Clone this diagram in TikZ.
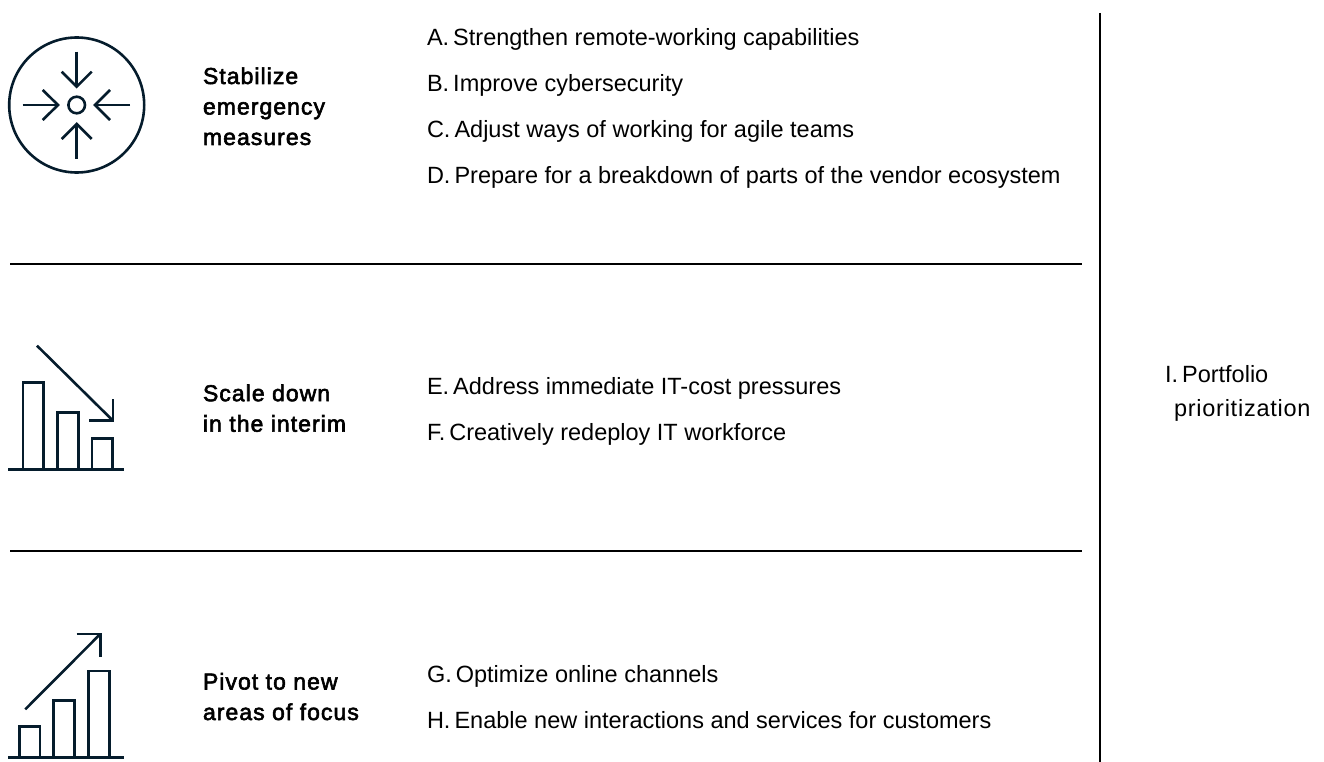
\documentclass[tikz,border=0pt]{standalone}
\usepackage{fontspec}
\setmainfont{Liberation Sans}
\newfontfamily\headfont[FakeBold=2.5,LetterSpace=4.5]{Liberation Sans}
\newfontfamily\widefont[LetterSpace=3.2]{Liberation Sans}
\definecolor{ink}{HTML}{051C2C}
\newcommand{\dotgap}{\kern-2.5pt\ }
\tikzset{
  every node/.style={inner sep=0pt,outer sep=0pt,text=black},
  item/.style={anchor=base west,font=\fontsize{23.5}{28}\selectfont},
  head/.style={anchor=base west,align=left,font=\fontsize{23}{30.5}\selectfont\headfont},
  icon/.style={draw=ink,line width=2.6pt,line cap=butt,line join=miter},
  rule/.style={draw=black,line width=2pt}
}
\begin{document}
\begin{tikzpicture}[x=1pt,y=-1pt]
\useasboundingbox (0,0) rectangle (1324,762);
% icon 1
\draw[icon] (76.7,105) circle[radius=67.5];
\draw[icon] (76.7,105) circle[radius=8.3];
\draw[icon] (76.7,51.7) -- (76.7,86.7);
\draw[icon] (61.7,71.7) -- (76.7,86.7) -- (91.7,71.7);
\draw[icon] (76.7,159) -- (76.7,124);
\draw[icon] (61.7,139) -- (76.7,124) -- (91.7,139);
\draw[icon] (22.7,105) -- (58,105);
\draw[icon] (42.7,90) -- (58,105) -- (42.7,120);
\draw[icon] (130,105) -- (95,105);
\draw[icon] (110,90) -- (95,105) -- (110,120);
% icon 2
\draw[icon] (8,469.3) -- (123.5,469.3);
\draw[icon] (23,469.3) |- (43.7,382.7) -- (43.7,469.3);
\draw[icon] (57.3,469.3) |- (78.3,412.7) -- (78.3,469.3);
\draw[icon] (92,469.3) |- (112.7,438.3) -- (112.7,469.3);
\draw[icon] (37,345.7) -- (113,420.7);
\draw[icon] (113,399) -- (113,420.7) -- (88.7,420.7);
% icon 3
\draw[icon] (8,757.3) -- (123.5,757.3);
\draw[icon] (19.3,757.3) |- (40,726.7) -- (40,757.3);
\draw[icon] (53.7,757.3) |- (74.7,700.7) -- (74.7,757.3);
\draw[icon] (88.3,757.3) |- (109.3,671) -- (109.3,757.3);
\draw[icon] (25.3,709.3) -- (100.3,634);
\draw[icon] (76.7,634) -- (100.3,634) -- (100.3,656.7);
% rules
\coordinate (r1a) at (10,263.5); \coordinate (r1b) at (1082,263.5);
\coordinate (r2a) at (10,551); \coordinate (r2b) at (1082,551);
\coordinate (va) at (1100,13); \coordinate (vb) at (1100,762);
\draw[rule] (r1a) -- (r1b);
\draw[rule] (r2a) -- (r2b);
\draw[rule] (va) -- (vb);
% heads
\node[head] (h1) at (203,145) {Stabilize\\emergency\\measures};
\node[head] (h2) at (203,431.7) {Scale down\\in the interim};
\node[head] (h3) at (203,720) {Pivot to new\\areas of focus};
% items
\node[item] (a) at (427,46) {A.\dotgap Strengthen remote-working capabilities};
\node[item] (b) at (427,92) {B.\dotgap Improve cybersecurity};
\node[item] (c) at (427,138) {C.\dotgap Adjust ways of working for agile teams};
\node[item] (d) at (427,184) {D.\dotgap Prepare for a breakdown of parts of the vendor ecosystem};
\node[item] (e) at (427,394) {E.\dotgap Address immediate IT-cost pressures};
\node[item] (f) at (427,440) {F.\dotgap Creatively redeploy IT workforce};
\node[item] (g) at (427,682) {G.\dotgap Optimize online channels};
\node[item] (h) at (427,728) {H.\dotgap Enable new interactions and services for customers};
\node[item] (i1) at (1165,382) {I.\dotgap Portfolio};
\node[item] (i2) at (1174,416) {\widefont prioritization};
\end{tikzpicture}
\end{document}
